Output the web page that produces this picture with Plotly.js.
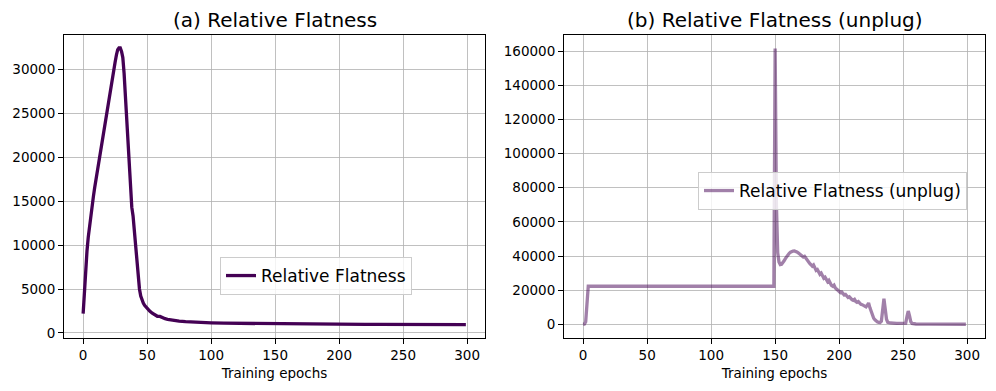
<!DOCTYPE html>
<html>
<head>
<meta charset="utf-8">
<script src="https://cdn.plot.ly/plotly-3.0.1.min.js"></script>
<style>
  html, body { margin: 0; padding: 0; background: #fff; }
  #myDiv { width: 996px; height: 391px; }
</style>
</head>
<body>
<div id="myDiv"></div>
<script>
// (a) Relative Flatness
var leftEpochs = [0,1,2,3,4,5,6,7,8,9,10,11,12,13,14,15,16,17,18,19,20,21,22,23,24,25,26,27,28,29,30,31,
    32,33,34,35,36,37,38,39,40,41,42,43,44,45,46,47,48,
    50,52,54,56,58,60,62,64,66,68,70,75,80,85,90,100,110,120,130,140,150,160,170,180,190,200,
    210,220,230,240,250,260,270,280,290,299];
var leftValues = [2200,5000,7400,9300,10900,12200,13400,14500,15500,16500,17400,18400,19400,20400,21300,22200,
    23200,24100,25000,25800,26600,27500,28300,29100,29900,30800,31600,32200,32400,32400,32000,31300,
    29500,26700,24200,22000,19700,17300,14300,13300,11400,9900,8000,6400,5000,4200,3700,3400,3150,
    2800,2500,2250,2080,1900,1880,1700,1620,1560,1500,1440,1350,1290,1240,1200,1150,1110,1090,1070,1050,
    1040,1030,1020,1010,1000,990,985,975,970,965,960,955,952,950,948,945];

// (b) Relative Flatness (unplug)
var rightEpochs = [0,1,2,3,4,149,150,151,152,153,154,155,156,157,158,159,160,161,162,163,164,165,166,167,168,169,
    170,171,172,173,174,175,176,177,178,179,180,181,182,183,184,185,186,187,188,189,190,191,192,193,194,195,
    196,197,198,199,200,201,202,203,204,205,206,207,208,209,210,211,212,213,214,215,216,217,218,219,220,221,
    222,223,224,225,226,227,228,229,230,231,232,233,234,235,236,237,238,239,240,245,250,252,253,254,255,256,
    257,258,260,270,280,290,299];
var rightValues = [0,200,1500,12000,22300,22300,161500,70000,42000,36500,35000,35200,36000,37200,38500,39700,
    40800,41600,42200,42700,42900,43000,42800,42400,41900,41200,40800,40200,39400,39800,38600,37300,36900,
    35600,34900,34100,34800,32700,31600,32100,30200,29300,30000,27900,27000,27600,25900,25000,25800,23900,
    22800,22300,22900,21300,20300,20000,19200,18600,18900,17800,17200,17500,16400,15700,16100,15000,14500,
    14100,14600,13400,12900,13300,12200,11700,11500,11000,10600,10200,11200,12500,9800,7500,5200,3600,2600,
    1900,1400,1200,1100,1800,8000,15000,9000,3000,1200,900,800,600,550,700,4500,7800,5000,1500,500,300,200,
    150,100,80,60];

var leftName = 'Relative Flatness';
var rightName = 'Relative Flatness (unplug)';

var font = 'DejaVu Sans, sans-serif';

var trace0 = {
    x: leftEpochs,
    y: leftValues,
    mode: 'lines',
    name: leftName,
    line: { color: '#440154', width: 3.3 },
    xaxis: 'x',
    yaxis: 'y',
    showlegend: true,
    legend: 'legend'
};

var trace1 = {
    x: rightEpochs,
    y: rightValues,
    mode: 'lines',
    name: rightName,
    line: { color: 'rgba(68,1,84,0.5)', width: 3.3 },
    xaxis: 'x2',
    yaxis: 'y2',
    showlegend: true,
    legend: 'legend2'
};

function xAxis(domain, anchor) {
    return {
        domain: domain,
        anchor: anchor,
        range: [-14.95, 313.95],
        dtick: 50,
        showgrid: true,
        gridcolor: '#b0b0b0',
        gridwidth: 0.8,
        zeroline: false,
        showline: true,
        mirror: true,
        linecolor: '#000',
        linewidth: 1,
        ticks: 'outside',
        ticklen: 5,
        tickcolor: '#000',
        tickfont: { family: font, size: 13.5, color: '#000' },
        title: { text: 'Training epochs', font: { family: font, size: 13.5, color: '#000' }, standoff: 6 },
        automargin: false
    };
}

function yAxis(domain, anchor, range, dtick) {
    return {
        domain: domain,
        anchor: anchor,
        range: range,
        dtick: dtick,
        tickformat: 'd',
        showgrid: true,
        gridcolor: '#b0b0b0',
        gridwidth: 0.8,
        zeroline: false,
        showline: true,
        mirror: true,
        linecolor: '#000',
        linewidth: 1,
        ticks: 'outside',
        ticklen: 5,
        tickcolor: '#000',
        tickfont: { family: font, size: 13.5, color: '#000' },
        automargin: false
    };
}

var yDom = [53 / 391, 356 / 391];

var legendStyle = {
    xanchor: 'left',
    yanchor: 'top',
    bgcolor: 'rgba(255,255,255,0.8)',
    bordercolor: '#cccccc',
    borderwidth: 1,
    font: { family: font, size: 17, color: '#000' }
};

var layout = {
    width: 996,
    height: 391,
    margin: { l: 0, r: 0, t: 0, b: 0 },
    paper_bgcolor: '#fff',
    plot_bgcolor: '#fff',
    font: { family: font, color: '#000' },
    showlegend: true,
    xaxis: xAxis([64 / 996, 485 / 996], 'y'),
    yaxis: yAxis(yDom, 'x', [-570, 33870], 5000),
    xaxis2: xAxis([564 / 996, 985 / 996], 'y2'),
    yaxis2: yAxis(yDom, 'x2', [-8000, 169400], 20000),
    legend: Object.assign({ x: 220 / 996, y: (391 - 257) / 391 }, legendStyle),
    legend2: Object.assign({ x: 698 / 996, y: (391 - 172) / 391 }, legendStyle),
    annotations: [
        { text: '(a) Relative Flatness', xref: 'paper', yref: 'paper', x: 274.5 / 996, y: (391 - 20) / 391,
          xanchor: 'center', yanchor: 'middle', showarrow: false, font: { family: font, size: 20, color: '#000' } },
        { text: '(b) Relative Flatness (unplug)', xref: 'paper', yref: 'paper', x: 774.5 / 996, y: (391 - 20) / 391,
          xanchor: 'center', yanchor: 'middle', showarrow: false, font: { family: font, size: 20, color: '#000' } }
    ],
    hovermode: 'closest'
};

Plotly.newPlot('myDiv', [trace0, trace1], layout, { displayModeBar: false, staticPlot: true });
</script>
</body>
</html>
